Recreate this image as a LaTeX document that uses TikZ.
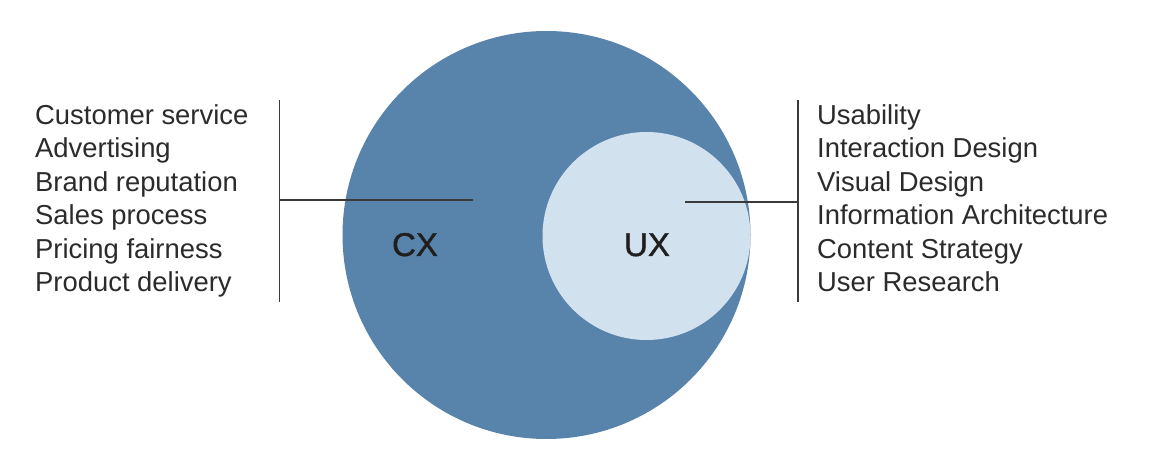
\documentclass[tikz,border=0pt]{standalone}
\usepackage{fontspec}
\setmainfont{Liberation Sans}
\newfontface\labelface{Liberation Sans}[FakeBold=1.2]
\definecolor{cxblue}{HTML}{5883AB}
\definecolor{uxlight}{HTML}{D1E1EE}
\definecolor{ink}{HTML}{2B2B2B}
\definecolor{rule}{HTML}{3A3A3A}
\begin{document}
\begin{tikzpicture}[x=1pt,y=-1pt,
  listitem/.style={anchor=base west,inner sep=0pt,text=ink,font=\fontsize{27.4}{33.5}\selectfont},
  biglabel/.style={anchor=base,inner sep=0pt,text=black!88,font=\labelface\fontsize{33}{36}\selectfont},
  ruleline/.style={draw=rule,line width=1.6pt}]
\useasboundingbox (0,0) rectangle (1152,462);
\fill[white] (0,0) rectangle (1152,462);
\node[circle,fill=cxblue,inner sep=0pt,minimum size=408pt] (cx) at (546.5,235) {};
\node[circle,fill=uxlight,inner sep=0pt,minimum size=208pt] (ux) at (646.5,236) {};
\node[biglabel] (cxl) at (415,256) {CX};
\node[biglabel] (uxl) at (647,256) {UX};
% left list
\foreach \t [count=\i] in {Customer service,Advertising,Brand reputation,Sales process,Pricing fairness,Product delivery}
  \node[listitem] (l\i) at (35,{124.3+(\i-1)*33.5}) {\t};
\foreach \t [count=\i] in {Usability,Interaction Design,Visual Design,Information Architecture,Content Strategy,User Research}
  \node[listitem] (r\i) at (817,{124.3+(\i-1)*33.5}) {\t};
% connectors
\coordinate (lt) at (279.5,100);
\coordinate (lb) at (279.5,302);
\coordinate (lend) at (473,200);
\coordinate (rt) at (798,100);
\coordinate (rb) at (798,302);
\coordinate (rend) at (685,202);
\draw[ruleline] (lt) -- (lb);
\draw[ruleline] (lt |- lend) -- (lend);
\draw[ruleline] (rt) -- (rb);
\draw[ruleline] (rend) -- (rt |- rend);
\end{tikzpicture}
\end{document}
